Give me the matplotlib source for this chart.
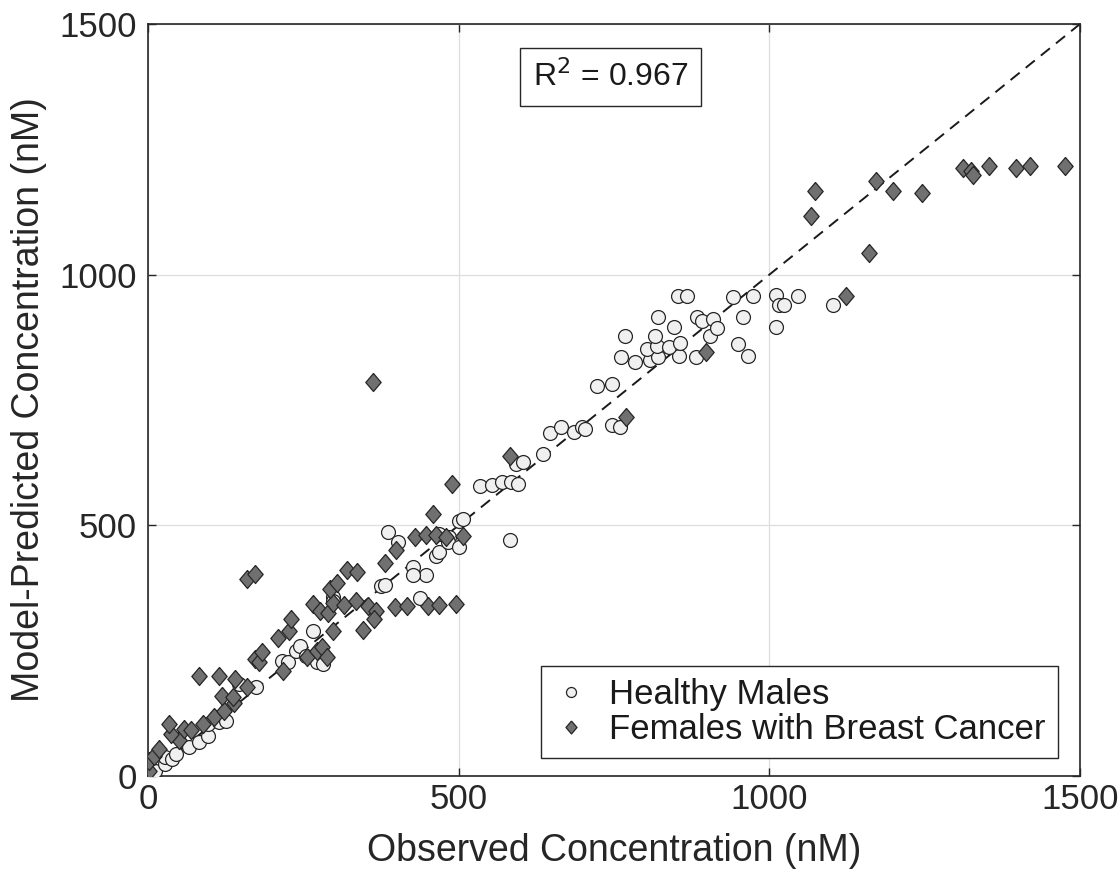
import matplotlib
matplotlib.use("Agg")
import matplotlib.pyplot as plt
import numpy as np

plt.rcParams['font.family'] = ['Liberation Sans', 'DejaVu Sans']

# Healthy males (observed, predicted)
male_obs = [2, 10, 12, 28, 28, 39, 45, 66, 82, 96, 96, 109, 115, 125, 147, 174,
            215, 225, 239, 245, 254, 266, 272, 281, 297, 298,
            375, 382, 386, 402, 426, 447, 426, 438, 464, 468, 469, 485, 483, 500, 501, 507,
            534, 553, 570, 585, 596, 583, 592, 603, 635, 647, 664, 685, 698, 703,
            722, 746, 747, 760, 762, 784, 808, 821, 854, 882, 803, 819, 838, 768,
            816, 856, 905, 950, 966, 846, 821, 883, 891, 910, 915, 957, 853, 867,
            941, 973, 1011, 1016, 1023, 1046, 1102, 1011]
male_pred = [4, 0, 10, 23, 37, 33, 43, 57, 67, 80, 103, 117, 107, 110, 183, 177,
             230, 227, 250, 260, 240, 290, 227, 223, 357, 350,
             378, 380, 487, 467, 417, 400, 400, 355, 438, 447, 483, 477, 467, 457, 508, 513,
             578, 580, 587, 587, 582, 470, 622, 627, 643, 685, 697, 687, 697, 693,
             778, 781, 700, 697, 835, 825, 829, 835, 838, 835, 851, 858, 855, 878,
             878, 863, 878, 861, 838, 895, 915, 915, 908, 911, 893, 915, 958, 958,
             955, 958, 960, 939, 939, 958, 939, 895]

# Females with breast cancer (observed, predicted)
female_obs = [1, 2, 10, 18, 50, 37, 34, 58, 69, 88, 106, 123, 139, 119, 137, 159, 140, 115, 82,
              159, 173, 173, 179, 183, 218, 209, 227, 230, 256, 272, 280, 288,
              266, 277, 290, 298, 293, 304, 297, 316, 335, 354, 367, 364, 346,
              321, 336, 362, 381, 399, 397, 417, 450, 469, 495,
              429, 447, 464, 480, 507, 458, 490, 583, 770, 898,
              1073, 1067, 1171, 1199, 1246, 1311, 1324, 1328, 1353, 1397, 1420, 1476, 1160, 1124]
female_pred = [10, 30, 40, 53, 71, 83, 103, 93, 91, 103, 118, 130, 145, 160, 157, 177, 193, 200, 200,
               393, 402, 234, 227, 247, 210, 275, 290, 313, 237, 250, 257, 237,
               343, 330, 326, 346, 374, 384, 289, 342, 350, 340, 330, 313, 291,
               411, 407, 785, 425, 451, 337, 340, 340, 342, 343,
               477, 480, 480, 477, 478, 523, 582, 638, 717, 845,
               1167, 1117, 1187, 1167, 1163, 1213, 1207, 1198, 1217, 1213, 1217, 1217, 1043, 958]

r2_text = 'R$^2$ = 0.967'
ticks = [0, 500, 1000, 1500]

dark = '#262626'
diamond = [(0, 1), (0.85, 0), (0, -1), (-0.85, 0), (0, 1)]

fig = plt.figure(figsize=(11.2, 8.8), dpi=100)
ax = fig.add_axes([148 / 1120, 104 / 880, 932 / 1120, 752 / 880])

ax.plot([0, 1500], [0, 1500], linestyle=(0, (6, 4)), color='#1a1a1a', lw=1.4, zorder=2)

ax.plot(male_obs, male_pred, linestyle='none', marker='o', markersize=10,
        markerfacecolor='#f0f0f0', markeredgecolor='#262626', markeredgewidth=0.9,
        label='Healthy Males', zorder=3)
ax.plot(female_obs, female_pred, linestyle='none', marker=diamond, markersize=13,
        markerfacecolor='#707070', markeredgecolor='#262626', markeredgewidth=0.9,
        label='Females with Breast Cancer', zorder=4)

ax.set_xlim(0, 1500)
ax.set_ylim(0, 1500)
ax.set_xticks(ticks)
ax.set_yticks(ticks)
ax.grid(True, color='#dedede', lw=0.9)
ax.set_axisbelow(True)

for s in ax.spines.values():
    s.set_color(dark)
    s.set_linewidth(1.2)
ax.tick_params(direction='in', length=6, width=1.0, color=dark, labelcolor=dark,
               labelsize=25, top=True, right=True)
ax.tick_params(axis='x', pad=5)
ax.tick_params(axis='y', pad=8)

ax.set_xlabel('Observed Concentration (nM)', fontsize=27, color=dark, labelpad=12)
ax.set_ylabel('Model-Predicted Concentration (nM)', fontsize=27, color=dark, labelpad=9)

ax.text(0.496, 0.93, r2_text, transform=ax.transAxes, ha='center', va='center',
        fontsize=23, color='#1a1a1a',
        bbox=dict(boxstyle='square,pad=0.4', facecolor='white', edgecolor=dark, lw=1.0))

leg = ax.legend(loc='lower right', bbox_to_anchor=(0.976, 0.024), borderaxespad=0,
                fontsize=25, frameon=True, fancybox=False, framealpha=1,
                edgecolor=dark, markerscale=0.72, handlelength=1.0, handletextpad=0.6,
                borderpad=0.35, labelspacing=0.05)
leg.get_frame().set_linewidth(1.0)
for t in leg.get_texts():
    t.set_color('#1a1a1a')

fig.savefig('out.png', dpi=100)
